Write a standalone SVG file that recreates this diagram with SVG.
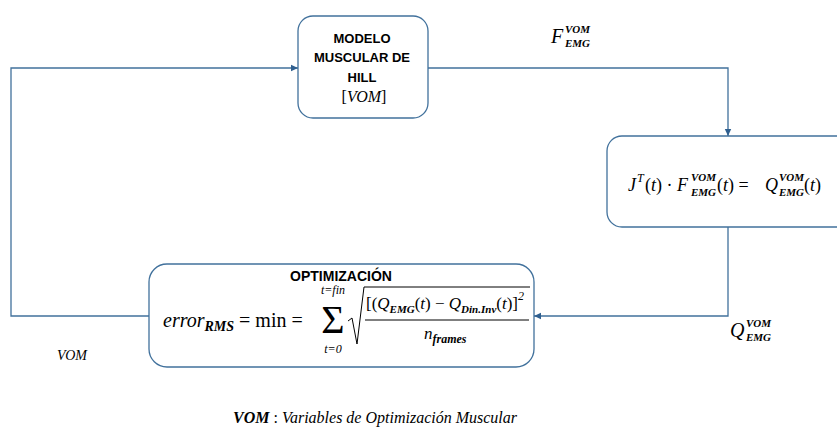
<svg xmlns="http://www.w3.org/2000/svg" width="837" height="428" viewBox="0 0 837 428">
<defs>
<marker id="arr" markerUnits="userSpaceOnUse" markerWidth="8" markerHeight="8" refX="7" refY="4" orient="auto">
<path d="M0,0.8 L7,4 L0,7.2 Z" fill="#2F5F8F"/>
</marker>
<style>
.box{fill:#fff;stroke:#41719C;stroke-width:1.3}
.con{fill:none;stroke:#41719C;stroke-width:1.3}
.h{font-family:"Liberation Sans",Arial,sans-serif;font-weight:bold;font-size:13px;fill:#000;text-anchor:middle}
.m{font-family:"Liberation Serif","Times New Roman",serif;font-size:18px;fill:#000}
.i{font-style:italic}
.s{font-family:"Liberation Serif","Times New Roman",serif;font-size:11px;font-style:italic;font-weight:bold;fill:#000}
.si{font-family:"Liberation Serif","Times New Roman",serif;font-size:12px;font-style:italic;fill:#000}
.b{font-weight:bold}
</style>
</defs>
<g id="connectors">
<polyline class="con" points="428,68 728,68 728,136" marker-end="url(#arr)"/>
<polyline class="con" points="728,227 728,316 534,316" marker-end="url(#arr)"/>
<polyline class="con" points="149,316 11,316 11,68 298,68" marker-end="url(#arr)"/>
</g>
<g id="modelo">
<rect class="box" x="298" y="16" width="130" height="102" rx="15"/>
<text class="h" x="362" y="43">MODELO</text>
<text class="h" x="362" y="62">MUSCULAR DE</text>
<text class="h" x="362" y="82">HILL</text>
<text class="m" x="364" y="102" text-anchor="middle" style="font-size:16px">[<tspan class="i">VOM</tspan>]</text>
</g>
<g id="jacobiano">
<rect class="box" x="607" y="136" width="250" height="91" rx="15"/>
<text class="m" x="628" y="191"><tspan class="i">J</tspan></text>
<text class="si" x="637" y="182">T</text>
<text class="m" x="645" y="191">(<tspan class="i">t</tspan>) · <tspan class="i">F</tspan></text>
<text class="s" x="691" y="181">VOM</text>
<text class="s" x="691" y="196">EMG</text>
<text class="m" x="717" y="191">(<tspan class="i">t</tspan>) =</text>
<text class="m i" x="765" y="191">Q</text>
<text class="s" x="779" y="181">VOM</text>
<text class="s" x="779" y="196">EMG</text>
<text class="m" x="804" y="191">(<tspan class="i">t</tspan>)</text>
</g>
<g id="optimizacion">
<rect class="box" x="149" y="264" width="385" height="103" rx="18"/>
<text class="h" x="341" y="281" style="font-size:14px">OPTIMIZACIÓN</text>
<text class="m" x="163" y="327" style="font-size:20px"><tspan class="i">error</tspan><tspan class="s" style="font-size:14px" dy="4">RMS</tspan><tspan dy="-4"> = min = </tspan></text>
<text class="m" x="333" y="333" text-anchor="middle" style="font-size:40px">Σ</text>
<text class="si" x="333" y="294" text-anchor="middle">t=fin</text>
<text class="si" x="333" y="353" text-anchor="middle">t=0</text>
<path d="M348,321 L352,318 L357,344 L364,287 L530,287" fill="none" stroke="#000" stroke-width="1"/>
<text class="m" x="366" y="309" style="font-size:17px">[(<tspan class="i">Q</tspan><tspan class="s" dy="4">EMG</tspan><tspan dy="-4">(<tspan class="i">t</tspan>) − </tspan><tspan class="i">Q</tspan><tspan class="s" dy="4">Din.Inv</tspan><tspan dy="-4">(<tspan class="i">t</tspan>)]</tspan><tspan class="si" dy="-9">2</tspan></text>
<line x1="365" y1="320" x2="529" y2="320" stroke="#000" stroke-width="1"/>
<text class="m" x="424" y="339" style="font-size:17px"><tspan class="i">n</tspan><tspan class="s" style="font-size:12px" dy="4">frames</tspan></text>
</g>
<g id="labels">
<text class="m i" x="551" y="43" style="font-size:20px">F</text>
<text class="s" x="565" y="33">VOM</text>
<text class="s" x="565" y="47">EMG</text>
<text class="m i" x="730" y="337" style="font-size:20px">Q</text>
<text class="s" x="746" y="327">VOM</text>
<text class="s" x="746" y="341">EMG</text>
<text class="m i" x="57" y="360" style="font-size:14px">VOM</text>
<text class="m" x="233" y="423" style="font-size:16px"><tspan class="i b">VOM</tspan> : <tspan class="i">Variables de Optimización Muscular</tspan></text>
</g>
</svg>
